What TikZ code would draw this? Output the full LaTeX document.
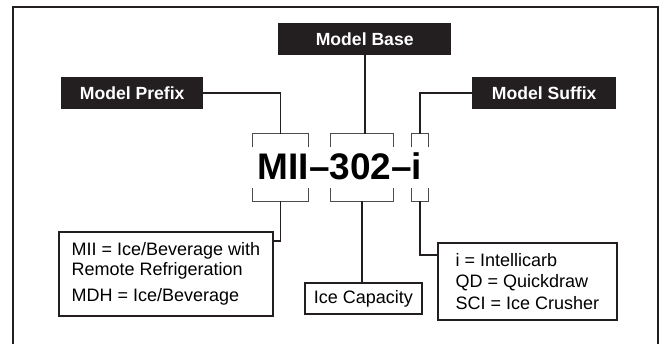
\documentclass[tikz,border=0pt]{standalone}
\usepackage{fontspec}
\setmainfont{Liberation Sans}
\definecolor{inkblack}{HTML}{231F20}

\begin{document}
\begin{tikzpicture}[x=1pt,y=-1pt,
  tag/.style={fill=inkblack,text=white,font=\fontsize{17.6}{20}\selectfont\bfseries,
    minimum height=32pt,inner sep=0pt,anchor=north west},
  info/.style={draw=inkblack,line width=1.8pt,align=left,inner sep=0pt,
    font=\fontsize{18}{21.5}\selectfont,anchor=north west},
  brk/.style={minimum height=67pt,inner sep=0pt},
  link/.style={line width=1.8pt,inkblack},
  tick/.style={line width=1.2pt,black!70}]
\useasboundingbox (0,0) rectangle (665,344);

% --- outer frame (open at the bottom) ---
\draw[line width=2pt,inkblack] (13,344) -- (13,7) -- (658,7) -- (658,344);

% --- black headers ---
\node[tag,minimum width=173pt] (mb) at (278,23) {Model Base};
\node[tag,minimum width=142pt] (mp) at (61,77) {Model Prefix};
\node[tag,minimum width=144pt] (ms) at (472,77) {Model Suffix};

% --- model number and its brackets ---
\node[font=\fontsize{37}{40}\selectfont\bfseries,anchor=base,inner sep=0pt] (code) at (340,180) {MII–302–i};
\node[brk,minimum width=55pt] (bp) at (280.5,167.5) {};
\node[brk,minimum width=62pt] (bb) at (362,167.5) {};
\node[brk,minimum width=16pt] (bs) at (420,167.5) {};
\foreach \b in {bp,bb,bs}{
  \draw[tick] ([yshift=-13pt]\b.north west) -- (\b.north west) -- (\b.north east) -- ([yshift=-13pt]\b.north east);
  \draw[tick] ([yshift=13pt]\b.south west) -- (\b.south west) -- (\b.south east) -- ([yshift=13pt]\b.south east);
}

% --- description boxes ---
\node[info,minimum width=214pt,minimum height=84pt,font=\fontsize{18}{20.5}\selectfont] (mii) at (58,231)
  {MII = Ice/Beverage with\\Remote Refrigeration\\[5.5pt]MDH = Ice/Beverage};
\node[info,minimum width=117pt,minimum height=31pt,align=center] (ic) at (304,282) {Ice Capacity};
\node[info,minimum width=179pt,minimum height=77pt] (sx) at (437,242)
  {i = Intellicarb\\QD = Quickdraw\\SCI = Ice Crusher};

% --- connectors ---
\draw[link] (mp.east) -| (bp.north);
\draw[link] (mb.south) -- (mb.south |- bb.north);
\draw[link] (ms.west) -| (bs.north);
\draw[link] (bp.south) |- ([yshift=-10pt]mii.north east);
\draw[link] (bb.south) -- (bb.south |- ic.north);
\draw[link] (bs.south) |- ([yshift=-13pt]sx.north west);
\end{tikzpicture}
\end{document}
